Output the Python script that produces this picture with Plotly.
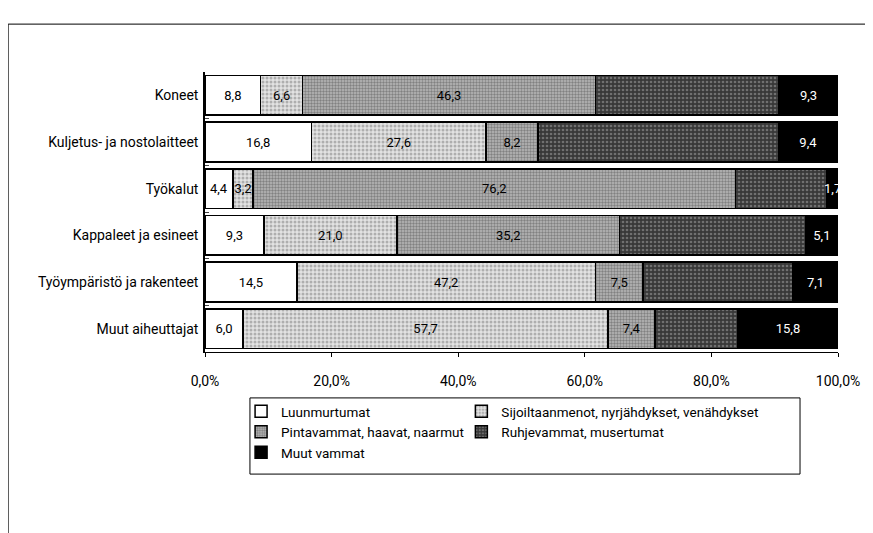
import plotly.graph_objects as go

categories = ["Koneet", "Kuljetus- ja nostolaitteet", "Työkalut",
              "Kappaleet ja esineet", "Työympäristö ja rakenteet", "Muut aiheuttajat"]
series_names = ["Luunmurtumat", "Sijoiltaanmenot, nyrjähdykset, venähdykset",
                "Pintavammat, haavat, naarmut", "Ruhjevammat, musertumat", "Muut vammat"]
luunmurtumat = [8.8, 16.8, 4.4, 9.3, 14.5, 6.0]
sijoiltaanmenot = [6.6, 27.6, 3.2, 21.0, 47.2, 57.7]
pintavammat = [46.3, 8.2, 76.2, 35.2, 7.5, 7.4]
ruhjevammat = [29.0, 38.0, 14.5, 29.4, 23.7, 13.1]
muut_vammat = [9.3, 9.4, 1.7, 5.1, 7.1, 15.8]
show_labels = [True, True, True, False, True]
legend_groups = ["legend", "legend2", "legend", "legend2", "legend"]
x_ticks = [0, 20, 40, 60, 80, 100]
x_ticktext = [f"{v:.1f}%".replace(".", ",") for v in x_ticks]

values = [luunmurtumat, sijoiltaanmenot, pintavammat, ruhjevammat, muut_vammat]
styles = [
    dict(color="white", pattern=None, text="black"),
    dict(color="#d8d8d8", pattern=dict(shape=".", fgcolor="#7a7a7a", bgcolor="#e2e2e2", size=4, solidity=0.45), text="black"),
    dict(color="#a0a0a0", pattern=dict(shape=".", fgcolor="#4a4a4a", bgcolor="#b8b8b8", size=3, solidity=0.5), text="black"),
    dict(color="#404040", pattern=dict(shape=".", fgcolor="#a8a8a8", bgcolor="#383838", size=4, solidity=0.35), text="white"),
    dict(color="black", pattern=None, text="white"),
]

FONT = "Roboto, Liberation Sans, sans-serif"

fig = go.Figure()
for name, vals, st, lab, lg in zip(series_names, values, styles, show_labels, legend_groups):
    marker = dict(color=st["color"], line=dict(color="black", width=1.5))
    if st["pattern"]:
        marker["pattern"] = st["pattern"]
    fig.add_trace(go.Bar(
        y=categories, x=vals, name=name, orientation="h",
        marker=marker, legend=lg,
        text=[f"{v:.1f}".replace(".", ",") if lab else "" for v in vals],
        textposition="inside", insidetextanchor="middle", textangle=0,
        textfont=dict(color=st["text"], size=13, family=FONT),
        hoverinfo="skip",
    ))

leg_common = dict(orientation="v", yanchor="top", xanchor="left", bgcolor="rgba(0,0,0,0)",
                  borderwidth=0, font=dict(size=13.5, family=FONT), itemwidth=30,
                  traceorder="normal", tracegroupgap=0)

fig.update_layout(
    width=873, height=533,
    barmode="stack", bargap=0.15,
    paper_bgcolor="white", plot_bgcolor="white",
    margin=dict(l=197, r=43, t=64, b=189),
    font=dict(family=FONT, size=13, color="black"),
    uniformtext=dict(minsize=13, mode="show"),
    showlegend=True,
    legend=dict(x=0.057, y=-0.157, **leg_common),
    legend2=dict(x=0.405, y=-0.157, **leg_common),
    xaxis=dict(range=[0, 100], tickvals=x_ticks, ticktext=x_ticktext,
               showgrid=False, zeroline=False, showline=True, linecolor="black", linewidth=1,
               ticks="outside", ticklen=4, tickcolor="black", ticklabelstandoff=12,
               tickfont=dict(size=14, family=FONT), fixedrange=True),
    yaxis=dict(autorange="reversed", showgrid=False, showline=True, linecolor="black",
               linewidth=1.5, ticks="inside", tickson="boundaries", ticklen=4,
               tickfont=dict(size=14, family=FONT), ticklabelstandoff=2),
    shapes=[
        dict(type="line", xref="paper", yref="paper", x0=-0.311, x1=1.045, y0=1.171, y1=1.171,
             line=dict(color="black", width=1)),
        dict(type="line", xref="paper", yref="paper", x0=-0.311, x1=-0.311, y0=1.171, y1=-0.66,
             line=dict(color="black", width=1)),
        dict(type="rect", xref="paper", yref="paper", x0=0.071, x1=0.94, y0=-0.164, y1=-0.436,
             line=dict(color="black", width=1)),
    ],
)

fig.write_html("out.html")
